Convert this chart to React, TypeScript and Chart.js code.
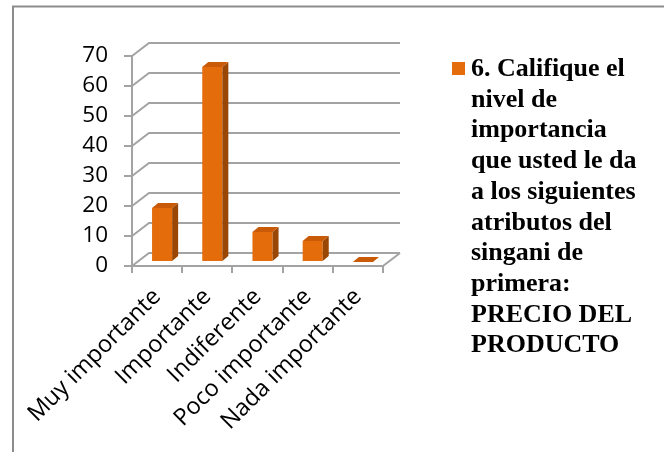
import React, { useEffect, useRef } from 'react';
import { Chart, registerables } from 'chart.js';

Chart.register(...registerables);

// ---- data ----
const CATEGORIES: string[] = ['Muy importante', 'Importante', 'Indiferente', 'Poco importante', 'Nada importante'];
const VALUES: number[] = [18, 65, 10, 7, 0];
const Y_MIN = 0;
const Y_MAX = 70;
const Y_STEP = 10;
const LEGEND_LINES: string[] = [
  '6. Califique el',
  'nivel de',
  'importancia',
  'que usted le da',
  'a los siguientes',
  'atributos del',
  'singani de',
  'primera:',
  'PRECIO DEL',
  'PRODUCTO',
];
const SERIES_LABEL = LEGEND_LINES.join(' ');

// ---- styles ----
const ORANGE = '#E46C0A';
const ORANGE_SIDE = '#9A4706';
const ORANGE_TOP = '#C85A08';
const GRID = '#A3A3A3';
const FRAME = '#8C8C8C';
const FONT_FAMILY = "'Open Sans', 'Noto Sans', sans-serif";

const WALL_DX = 17;
const WALL_DY = -13;
const BAR_DX = 5;
const BAR_DY = -4;
const BAR_DEPTH_X = 6;
const BAR_DEPTH_Y = -5;

const framePlugin = {
  id: 'frame',
  beforeDraw(chart: any) {
    const ctx = chart.ctx;
    ctx.save();
    ctx.strokeStyle = FRAME;
    ctx.lineWidth = 2;
    ctx.strokeRect(13, 6.5, 800, 600);
    ctx.restore();
  },
};

const threeDPlugin = {
  id: 'threeD',
  beforeDatasetsDraw(chart: any) {
    const ctx = chart.ctx;
    const { left, right, bottom } = chart.chartArea;
    const ys = chart.scales.y;
    ctx.save();
    ctx.strokeStyle = GRID;
    ctx.lineWidth = 2;
    ctx.lineJoin = 'miter';
    ys.ticks.forEach((t: any) => {
      const yv = ys.getPixelForValue(t.value);
      ctx.beginPath();
      ctx.moveTo(left, yv);
      ctx.lineTo(left + WALL_DX, yv + WALL_DY);
      ctx.lineTo(right + WALL_DX, yv + WALL_DY);
      ctx.stroke();
    });
    ctx.beginPath();
    ctx.moveTo(right, bottom);
    ctx.lineTo(right + WALL_DX, bottom + WALL_DY);
    ctx.stroke();
    ctx.restore();
    ctx.save();
    ctx.translate(BAR_DX, BAR_DY);
  },
  afterDatasetsDraw(chart: any) {
    const ctx = chart.ctx;
    ctx.restore();
    ctx.save();
    ctx.translate(BAR_DX, BAR_DY);
    const meta = chart.getDatasetMeta(0);
    meta.data.forEach((bar: any) => {
      const p = bar.getProps(['x', 'y', 'base', 'width'], true);
      const l = p.x - p.width / 2;
      const r = p.x + p.width / 2;
      const top = Math.min(p.y, p.base);
      const bot = Math.max(p.y, p.base);
      if (bot - top > 0.5) {
        ctx.fillStyle = ORANGE_SIDE;
        ctx.beginPath();
        ctx.moveTo(r, top);
        ctx.lineTo(r + BAR_DEPTH_X, top + BAR_DEPTH_Y);
        ctx.lineTo(r + BAR_DEPTH_X, bot + BAR_DEPTH_Y);
        ctx.lineTo(r, bot);
        ctx.closePath();
        ctx.fill();
      }
      ctx.fillStyle = ORANGE_TOP;
      ctx.beginPath();
      ctx.moveTo(l, top);
      ctx.lineTo(l + BAR_DEPTH_X, top + BAR_DEPTH_Y);
      ctx.lineTo(r + BAR_DEPTH_X, top + BAR_DEPTH_Y);
      ctx.lineTo(r, top);
      ctx.closePath();
      ctx.fill();
    });
    ctx.restore();
  },
};

const legendPlugin = {
  id: 'wrappedLegend',
  afterDraw(chart: any) {
    const ctx = chart.ctx;
    const ds = chart.data.datasets[0];
    ctx.save();
    ctx.fillStyle = ds.backgroundColor;
    ctx.fillRect(452, 62, 13, 13);
    ctx.fillStyle = '#000';
    ctx.font = "bold 26px 'Liberation Serif', 'Times New Roman', serif";
    ctx.textBaseline = 'alphabetic';
    ctx.textAlign = 'left';
    LEGEND_LINES.forEach((line, i) => {
      ctx.fillText(line, 471, 76 + i * 30.7);
    });
    ctx.restore();
  },
};

export default function App() {
  const ref = useRef<HTMLCanvasElement>(null);

  useEffect(() => {
    if (!ref.current) return;
    const chart = new Chart(ref.current, {
      type: 'bar',
      data: {
        labels: CATEGORIES,
        datasets: [
          {
            label: SERIES_LABEL,
            data: VALUES,
            backgroundColor: ORANGE,
            borderWidth: 0,
            barPercentage: 0.4,
            categoryPercentage: 1,
          },
        ],
      },
      options: {
        responsive: false,
        animation: false,
        layout: { padding: { top: 56, left: 0, right: 664 - 383, bottom: 0 } },
        plugins: {
          legend: { display: false },
          tooltip: { enabled: false },
          title: { display: false },
        },
        scales: {
          x: {
            type: 'category',
            grid: {
              display: true,
              drawOnChartArea: false,
              drawTicks: true,
              tickLength: 7,
              color: GRID,
              lineWidth: 2,
              offset: true,
            },
            border: { display: true, color: GRID, width: 2 },
            ticks: {
              font: { family: FONT_FAMILY, size: 23.5 },
              color: '#000',
              minRotation: 45,
              maxRotation: 45,
              autoSkip: false,
              padding: 10,
            },
            afterFit: (s: any) => {
              s.height = 452 - 266;
            },
          },
          y: {
            min: Y_MIN,
            max: Y_MAX,
            ticks: {
              stepSize: Y_STEP,
              font: { family: FONT_FAMILY, size: 22.5 },
              color: '#000',
              padding: 16,
              autoSkip: false,
            },
            grid: {
              display: true,
              drawOnChartArea: false,
              drawTicks: true,
              tickLength: 8,
              color: GRID,
              lineWidth: 2,
            },
            border: { display: true, color: GRID, width: 2 },
            afterFit: (s: any) => {
              s.width = 132;
            },
          },
        },
      },
      plugins: [framePlugin, threeDPlugin, legendPlugin],
    });
    return () => chart.destroy();
  }, []);

  return (
    <div style={{ position: 'fixed', left: 0, top: 0, width: 664, height: 452, background: '#fff' }}>
      <canvas ref={ref} width={664} height={452} style={{ display: 'block' }} />
    </div>
  );
}
